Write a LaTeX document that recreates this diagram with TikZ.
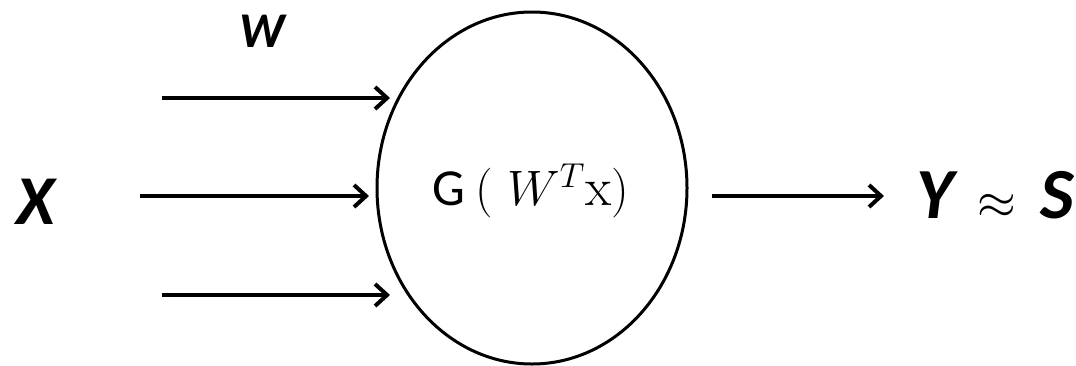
\documentclass[tikz,border=0pt]{standalone}
\usepackage{fontspec}
\usepackage{amsmath}
\usetikzlibrary{arrows.meta, shapes.geometric}
\newfontfamily\calibri{Carlito}
\tikzset{
  wire/.style={-{Straight Barb[length=6pt, width=11pt, line width=2pt]}, line width=2pt, color=black},
  neuron/.style={ellipse, draw, line width=1.5pt, minimum width=155pt, minimum height=176pt, inner sep=0pt},
  symb/.style={font=\calibri\bfseries\itshape, inner sep=0pt}
}
\begin{document}
\begin{tikzpicture}[x=0.5pt, y=-0.5pt]
\useasboundingbox (0,0) rectangle (1076,365);
\node[neuron] (g) at (532,188) {};
\node[inner sep=0pt] (gx) at (531,191) {{\fontsize{26}{28}\calibri G}\hspace{5pt}{\fontsize{27}{30}\selectfont$(\;W^{T}\mathrm{x})$}};
\node[symb, font=\fontsize{25}{28}\calibri\bfseries\itshape] (w) at (262,31) {W};
\node[symb, font=\fontsize{35}{40}\calibri\bfseries\itshape] (x) at (36,202) {X};
\node[symb, font=\fontsize{36}{40}\calibri\bfseries\itshape] (ys) at (995,195) {Y\,\,{\fontsize{28}{32}\selectfont$\approx$}\,\,S};
\coordinate (a1) at (162,98);
\coordinate (b1) at (390,98);
\coordinate (a2) at (140,196);
\coordinate (b2) at (369,196);
\coordinate (a3) at (162,295);
\coordinate (b3) at (390,295);
\coordinate (o1) at (712,196);
\coordinate (o2) at (884,196);
\draw[wire] (a1) -- (b1);
\draw[wire] (a2) -- (b2);
\draw[wire] (a3) -- (b3);
\draw[wire] (o1) -- (o2);
\end{tikzpicture}
\end{document}
